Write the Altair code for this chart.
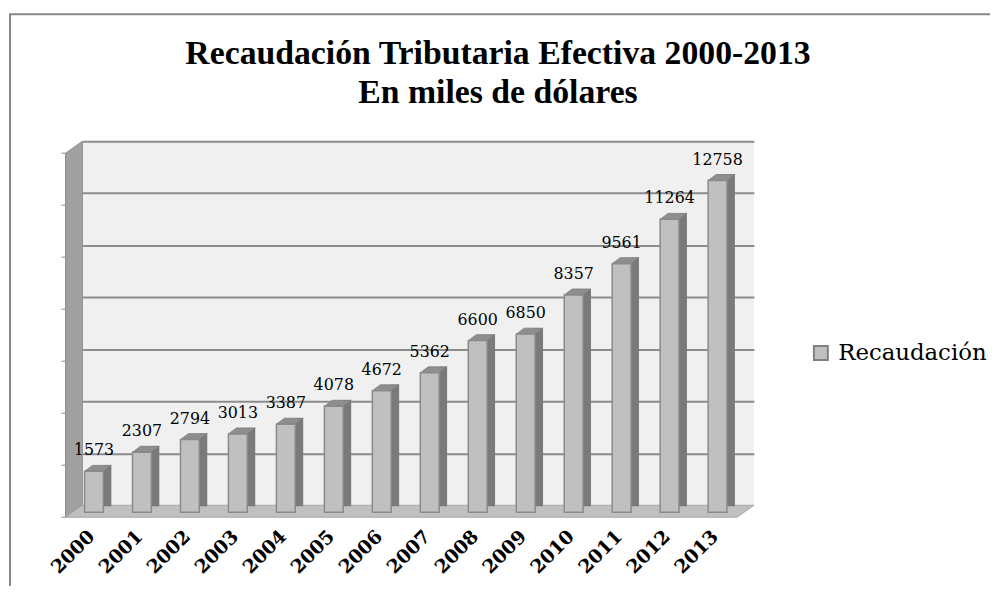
import altair as alt
import pandas as pd

# ---- data ----
years = ["2000", "2001", "2002", "2003", "2004", "2005", "2006",
         "2007", "2008", "2009", "2010", "2011", "2012", "2013"]
values = [1573, 2307, 2794, 3013, 3387, 4078, 4672,
          5362, 6600, 6850, 8357, 9561, 11264, 12758]
series_name = "Recaudación"
grid_values = [0, 2000, 4000, 6000, 8000, 10000, 12000, 14000]
title_lines = ["Recaudación Tributaria Efectiva 2000-2013", "En miles de dólares"]

# ---- layout constants (pixels) ----
W, H = 677, 367
PAD_L, PAD_T, PAD_R, PAD_B = 75, 132, 238, 79
DX, DY = 17, 12            # depth of the left wall / floor
BAR_W, SIDE_W, TOP_H = 19, 8, 6
SHIFT_X, SHIFT_Y = -12.5, 7
FONT = "DejaVu Serif"
TITLE_FONT = "Liberation Serif"
TITLE_SIZE = 34
TITLE_X, TITLE_Y1, TITLE_Y2 = 419, -78, -39

df = pd.DataFrame({"year": years, "value": values, "serie": [series_name] * len(years)})
grid_df = pd.DataFrame({"value": grid_values})
one = pd.DataFrame({"k": [0]})

x_enc = alt.X(
    "year:N", sort=years,
    scale=alt.Scale(paddingInner=0, paddingOuter=0),
    axis=alt.Axis(title=None, labelAngle=-45, labelAlign="right", labelBaseline="middle",
                  labelOffset=-15, labelPadding=28, domain=False, ticks=False,
                  labelFont=FONT, labelFontSize=19, labelFontWeight="bold",
                  labelColor="black", labelOverlap=False),
)
y_enc = alt.Y(
    "value:Q",
    scale=alt.Scale(domain=[0, grid_values[-1]], nice=False),
    axis=alt.Axis(title=None, labels=False, ticks=False, domain=False, grid=True,
                  values=grid_values[1:], gridColor="#8c8c8c", gridWidth=2),
)

# decorative 3D frame shapes (custom symbol paths, size=4 -> unit = 1px)
left_wall_path = f"M0,0 L{-DX},{DY} L{-DX},{H + DY} L0,{H} Z"
floor_path = f"M0,{H} L{W},{H} L{W - DX},{H + DY} L{-DX},{H + DY} Z"
top_path = (f"M{-BAR_W / 2},0 L{BAR_W / 2},0 L{BAR_W / 2 + SIDE_W},{-TOP_H} "
            f"L{-BAR_W / 2 + SIDE_W},{-TOP_H} Z")

border = alt.Chart(one).mark_rect(filled=False, stroke="#868686", strokeWidth=2).encode(
    x=alt.value(-PAD_L + 2), x2=alt.value(W + PAD_R + 30),
    y=alt.value(-PAD_T + 4), y2=alt.value(H + PAD_B + 30),
)

title1 = alt.Chart(one).mark_text(
    text=title_lines[0], font=TITLE_FONT, fontSize=TITLE_SIZE, fontWeight="bold",
    color="black", align="center", baseline="alphabetic",
).encode(x=alt.value(TITLE_X), y=alt.value(TITLE_Y1))
title2 = alt.Chart(one).mark_text(
    text=title_lines[1], font=TITLE_FONT, fontSize=TITLE_SIZE, fontWeight="bold",
    color="black", align="center", baseline="alphabetic",
).encode(x=alt.value(TITLE_X), y=alt.value(TITLE_Y2))

left_wall = alt.Chart(one).mark_point(
    shape=left_wall_path, size=4, filled=True, fill="#a0a0a0", stroke="#8e8e8e",
    strokeWidth=1, opacity=1,
).encode(x=alt.value(0), y=alt.value(0))

floor = alt.Chart(one).mark_point(
    shape=floor_path, size=4, filled=True, fill="#c0c0c0", stroke="#a6a6a6",
    strokeWidth=1, opacity=1,
).encode(x=alt.value(0), y=alt.value(0))

wall_ticks = alt.Chart(grid_df).mark_rule(color="#8a8a8a", strokeWidth=1, yOffset=DY).encode(
    y=alt.Y("value:Q"), x=alt.value(-DX - 4), x2=alt.value(-DX),
)

base = alt.Chart(df)

side = base.mark_bar(
    size=SIDE_W, xOffset=SHIFT_X + BAR_W / 2 + SIDE_W / 2,
    yOffset=SHIFT_Y - TOP_H, y2Offset=SHIFT_Y - TOP_H / 2, color="#7a7a7a",
).encode(x=x_enc, y=y_enc)

top = base.mark_point(
    shape=top_path, size=4, filled=True, fill="#8e8e8e", stroke="#7a7a7a",
    strokeWidth=0.8, opacity=1, xOffset=SHIFT_X, yOffset=SHIFT_Y,
).encode(x=x_enc, y=y_enc)

front = base.mark_bar(
    size=BAR_W, xOffset=SHIFT_X, yOffset=SHIFT_Y, y2Offset=SHIFT_Y,
    stroke="#8a8a8a", strokeWidth=1.5,
).encode(
    x=x_enc, y=y_enc,
    color=alt.Color("serie:N", scale=alt.Scale(range=["#c0c0c0"]),
                    legend=alt.Legend(title=None, orient="none", legendX=733, legendY=202,
                                      symbolType="square", symbolSize=196,
                                      symbolStrokeColor="#808080", symbolStrokeWidth=2,
                                      labelFont=FONT, labelFontSize=23, labelColor="black",
                                      labelOffset=6)),
)

labels = base.mark_text(
    font=FONT, fontSize=16, color="black", baseline="alphabetic",
    xOffset=SHIFT_X, yOffset=SHIFT_Y - 16,
).encode(x=x_enc, y=y_enc, text=alt.Text("value:Q", format="d"))

chart = alt.layer(border, title1, title2, left_wall, wall_ticks, floor,
                  side, top, front, labels).properties(
    width=W, height=H,
    padding={"left": PAD_L, "top": PAD_T, "right": PAD_R, "bottom": PAD_B},
    autosize=alt.AutoSizeParams(type="none"),
    background="white",
).configure_view(fill="#f0f0f0", strokeWidth=0)

chart.save("out.html", embed_options={"renderer": "svg", "actions": False})
